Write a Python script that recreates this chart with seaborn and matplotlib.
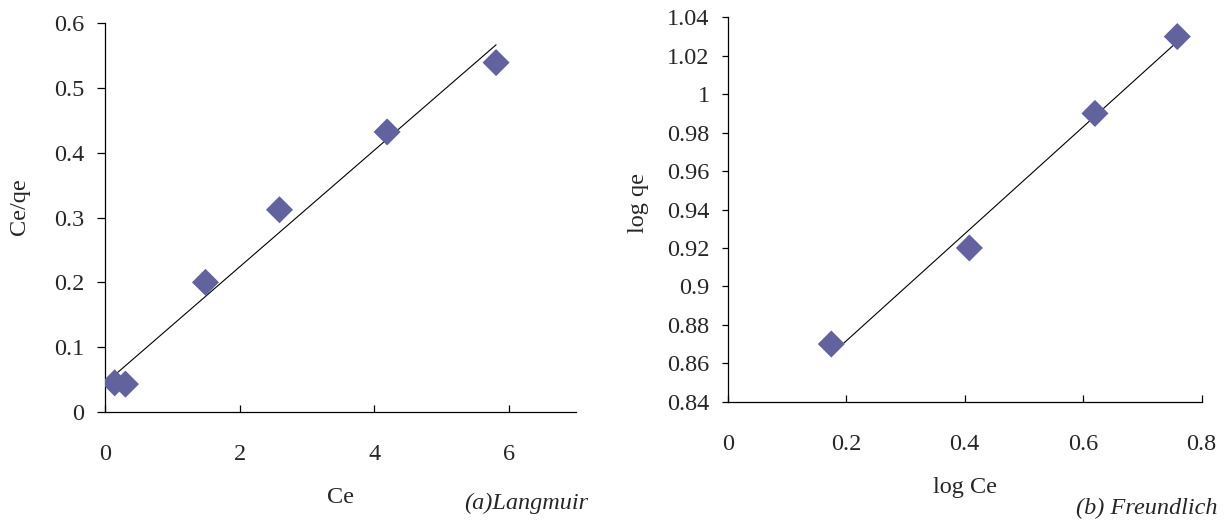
import numpy as np
import pandas as pd
import seaborn as sns
import matplotlib.pyplot as plt
from matplotlib.ticker import FuncFormatter

# langmuir data
ce = [0.14, 0.30, 1.49, 2.59, 4.19, 5.81]
ce_qe = [0.045, 0.043, 0.200, 0.312, 0.432, 0.539]

# freundlich data
log_ce = [0.175, 0.408, 0.620, 0.759]
log_qe = [0.870, 0.920, 0.990, 1.030]

marker_color = "#62639e"
fs = 17.5

sns.set_style("white")
plt.rcParams['font.family'] = ['Liberation Serif', 'DejaVu Serif']

fig = plt.figure(figsize=(12.31, 5.2), dpi=100)
ax1 = fig.add_axes([0.0855, 0.2077, 0.3825, 0.748])
ax2 = fig.add_axes([0.5911, 0.2275, 0.3850, 0.7392])

gfmt = FuncFormatter(lambda v, p: f"{v:g}")

def panel(ax, x, y, xlim, ylim, xticks, yticks, xlabel, ylabel, xl_pos, yl_pos, ytick_len):
    d = pd.DataFrame({'x': x, 'y': y})
    slope, icpt = np.polyfit(d['x'], d['y'], 1)
    fit = pd.DataFrame({'x': [d['x'].min(), d['x'].max()]})
    fit['y'] = slope * fit['x'] + icpt
    sns.lineplot(data=fit, x='x', y='y', ax=ax, color='black', lw=0.8)
    sns.scatterplot(data=d, x='x', y='y', ax=ax, marker='D', s=190,
                    color=marker_color, edgecolor='none', zorder=3)
    ax.set_xlim(*xlim)
    ax.set_ylim(*ylim)
    ax.set_xticks(xticks)
    ax.set_yticks(yticks)
    ax.xaxis.set_major_formatter(gfmt)
    ax.yaxis.set_major_formatter(gfmt)
    ax.tick_params(axis='x', bottom=True, direction='in', length=5, width=0.9,
                   pad=23, labelsize=fs, color='black')
    ax.tick_params(axis='y', left=True, direction='out', length=ytick_len, width=0.9,
                   pad=9, labelsize=fs, color='black')
    for s in ['top', 'right']:
        ax.spines[s].set_visible(False)
    for s in ['left', 'bottom']:
        ax.spines[s].set_color('black')
        ax.spines[s].set_linewidth(0.9)
    ax.set_xlabel(xlabel, fontsize=fs, va='center')
    ax.set_ylabel(ylabel, fontsize=fs, va='center')
    ax.xaxis.set_label_coords(*xl_pos)
    ax.yaxis.set_label_coords(*yl_pos)

panel(ax1, ce, ce_qe, (0, 7), (0, 0.6), [0, 2, 4, 6],
      np.round(np.arange(0, 0.61, 0.1), 2), 'Ce', 'Ce/qe',
      (0.5, -0.221), (-0.183, 0.527), 6)
panel(ax2, log_ce, log_qe, (0, 0.8), (0.84, 1.04), [0, 0.2, 0.4, 0.6, 0.8],
      np.round(np.arange(0.84, 1.041, 0.02), 2), 'log Ce', 'log qe',
      (0.5, -0.222), (-0.189, 0.517), 4)

fig.text(588 / 1231, 1 - 503 / 520, '(a)Langmuir', ha='right', va='center',
         fontsize=fs, style='italic')
fig.text(1218 / 1231, 1 - 508 / 520, '(b) Freundlich', ha='right', va='center',
         fontsize=fs, style='italic')

plt.savefig('out.png', dpi=100)
